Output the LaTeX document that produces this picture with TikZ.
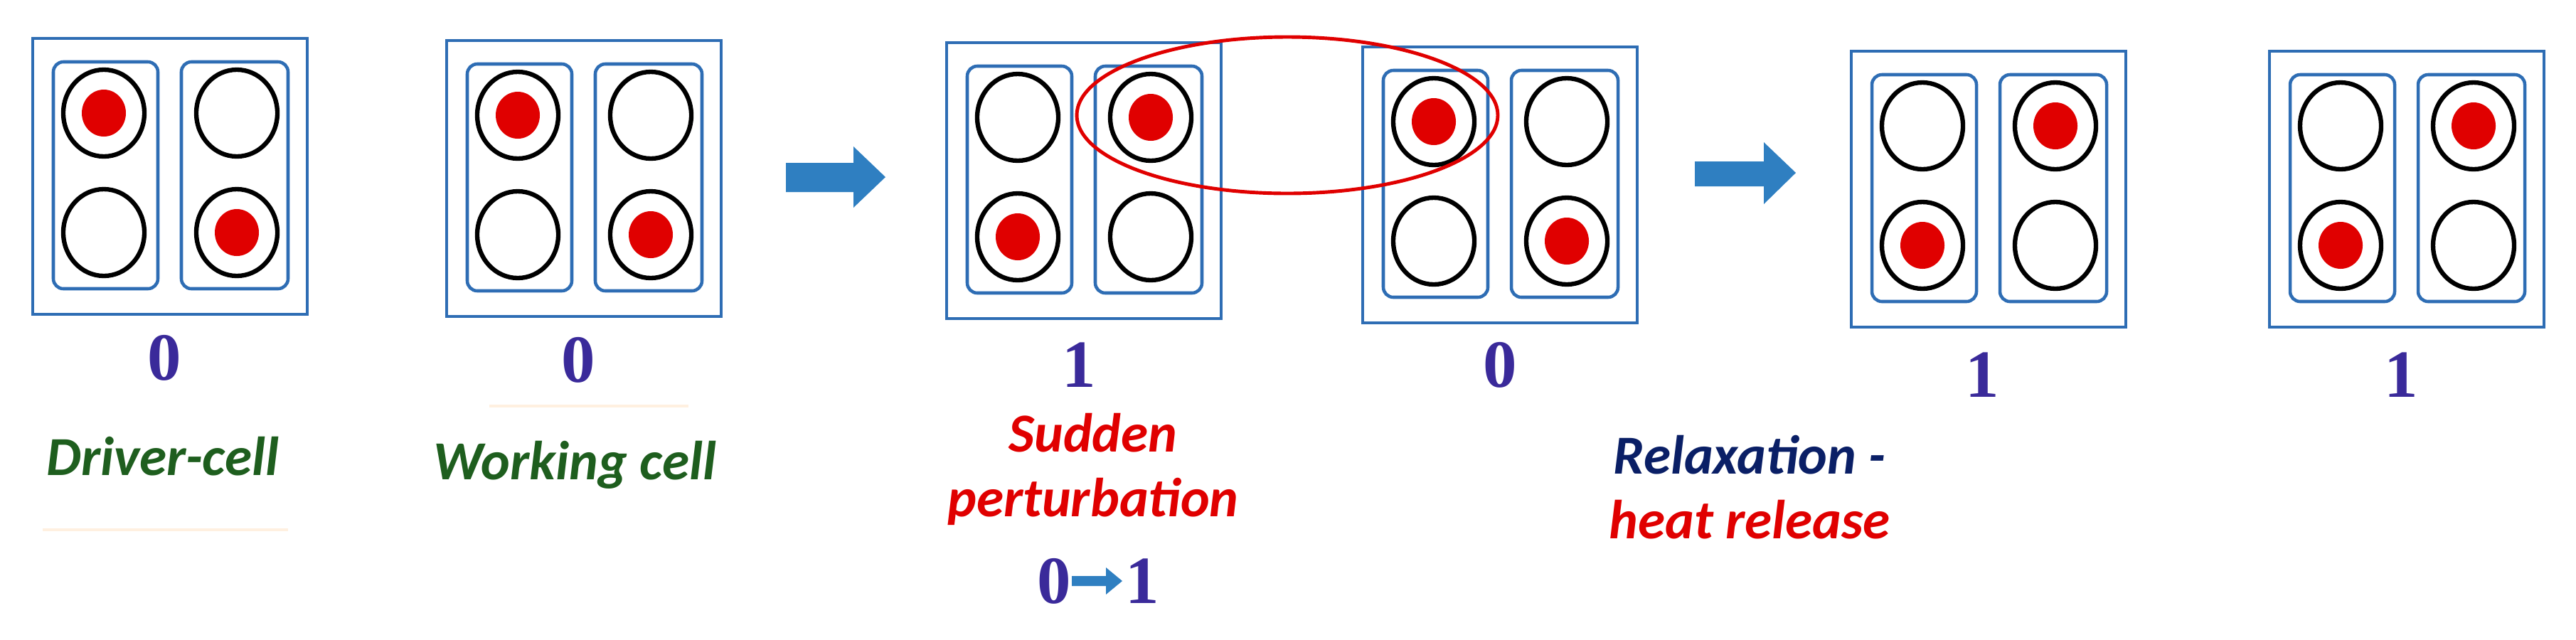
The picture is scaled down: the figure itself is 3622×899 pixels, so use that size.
\documentclass[tikz,border=0pt]{standalone}
\usepackage{fontspec}
\setmainfont{Liberation Serif}
\newfontfamily\carl{Carlito}
\definecolor{bx}{HTML}{2E6DB4}
\definecolor{ar}{HTML}{2F7FC1}
\definecolor{num}{HTML}{3A2A9A}
\definecolor{grn}{HTML}{1E5E1E}
\definecolor{nvy}{HTML}{0A1F66}
\definecolor{rd}{HTML}{E00000}
\newcommand\qcell[3]{%
 \begin{scope}[shift={(#1,#2)}]
  \draw[boxln] (0,0) rectangle (386,388);
  \draw[boxln,rounded corners=4pt] (29,33) rectangle (176,352);
  \draw[boxln,rounded corners=4pt] (209,33) rectangle (359,352);
  \foreach \cx/\cy in {100/105,100/273,287/105,287/273}{\draw[ring] (\cx,\cy) ellipse (57 and 61);}
  \ifnum#3=1
   \fill[rd] (100,105) ellipse (31 and 33); \fill[rd] (287,273) ellipse (31 and 33);
  \else
   \fill[rd] (287,105) ellipse (31 and 33); \fill[rd] (100,273) ellipse (31 and 33);
  \fi
 \end{scope}}
\begin{document}
\begin{tikzpicture}[x=0.01cm,y=-0.01cm,
 boxln/.style={draw=bx,line width=1.3pt},
 ring/.style={draw=black,line width=1.8pt},
 num/.style={font=\bfseries\fontsize{27}{27}\selectfont,text=num},
 lab/.style={font=\carl\bfseries\itshape\fontsize{22}{26}\selectfont,align=center},
 blk/.style={fill=ar}]
\useasboundingbox (0,0) rectangle (3622,899);
\qcell{46}{54}{1}
\qcell{628}{57}{1}
\qcell{1331}{60}{2}
\qcell{1916}{66}{1}
\qcell{2603}{72}{2}
\qcell{3191}{72}{2}
\draw[rd,line width=1.4pt] (1810,162) ellipse (296 and 110);
% block arrows
\fill[blk] (1105,229) -- (1200,229) -- (1200,206) -- (1245,249) -- (1200,292) -- (1200,270) -- (1105,270) -- cycle;
\fill[blk] (2383,227) -- (2480,227) -- (2480,200) -- (2525,243) -- (2480,287) -- (2480,262) -- (2383,262) -- cycle;
% numbers
\node[num] (n1) at (231,503) {0};
\node[num] (n2) at (813,506) {0};
\node[num] (n3) at (1517,513) {1};
\node[num] (n4) at (2109,513) {0};
\node[num] (n5) at (2787,527) {1};
\node[num] (n6) at (3376,527) {1};
% labels
\node[lab,text=grn] (t1) at (229,642) {Driver-cell};
\node[lab,text=grn] (t2) at (808,654) {Working cell};
\node[lab,text=rd] (t3) at (1537,660) {Sudden\\perturbation};
\node[lab,anchor=west] (t4) at (2250,685) {\textcolor{nvy}{Relaxation -}\\\textcolor{rd}{heat release}};
\node[num] (z0) at (1482,817) {0};
\node[num] (z1) at (1606,817) {1};
\fill[blk] (1507,810) -- (1555,810) -- (1555,798) -- (1578,817) -- (1555,836) -- (1555,824) -- (1507,824) -- cycle;
% faint lines
\draw[orange!12,line width=1pt] (60,745) -- (405,745);
\draw[orange!12,line width=1pt] (688,571) -- (968,571);
\end{tikzpicture}
\end{document}
